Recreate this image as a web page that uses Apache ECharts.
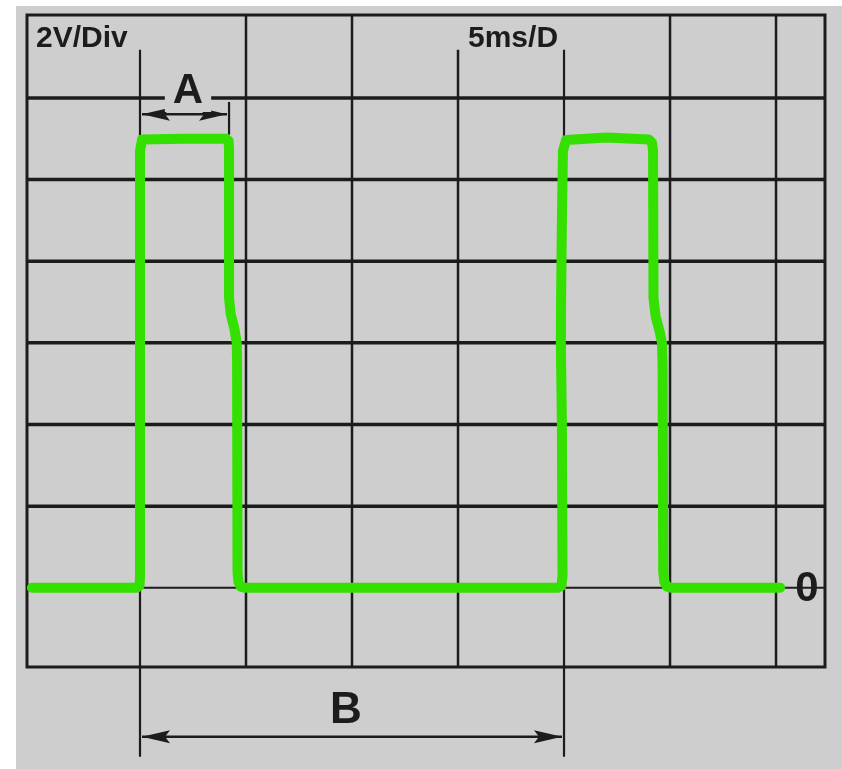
<!DOCTYPE html>
<html>
<head>
<meta charset="utf-8">
<script src="https://cdn.jsdelivr.net/npm/echarts@6/dist/echarts.min.js"></script>
<style>
  html, body { margin: 0; padding: 0; background: #fff; }
  #bg { position: absolute; left: 16px; top: 6px; right: 0; bottom: 0; background: #cecece; }
  #main { position: absolute; left: 0; top: 0; width: 842px; height: 769px; }
</style>
</head>
<body>
<div id="bg"></div>
<div id="main"></div>
<script>
// trace, time in ms (5 ms / div), voltage in V (2 V / div)
const traceTime = [-5.1, -0.15, -0.02, 0, 0, 0.1, 2.0, 4.05, 4.18, 4.2, 4.2, 4.28, 4.45, 4.56, 4.58, 4.6, 4.64, 4.75, 4.95,
                   19.7, 19.88, 19.93, 19.9, 19.85, 19.86, 19.9, 19.95, 20.1, 22.0, 24.0, 24.15, 24.2, 24.22, 24.32, 24.5, 24.62, 24.65, 24.68, 24.73, 24.85, 25.05, 30.2];
const traceVolt = [0, 0, 0.05, 0.3, 10.7, 10.98, 11.0, 11.0, 10.95, 10.75, 7.1, 6.7, 6.35, 6.0, 5.5, 0.4, 0.15, 0.03, 0,
                   0, 0.05, 0.3, 4.0, 6.0, 6.9, 9.0, 10.7, 10.97, 11.03, 10.98, 10.9, 10.7, 7.1, 6.65, 6.3, 6.0, 5.5, 0.4, 0.15, 0.03, 0, 0];

// grid lines
const hGridVolts = [2, 4, 6, 8, 10, 12];
const zeroVolt = [0];
const vGridFull = [5, 10, 25, 30];
const vGridBelowLabels = [15];
const markerTimes = [0, 20];

// measurements
const pulseWidthA = [0, 4.2];   // ms
const periodB = [0, 20];        // ms

// labels
const voltsPerDiv = '2V/Div';
const timePerDiv = '5ms/D';
const zeroLabel = '0';

// axis extent and annotation levels (V)
const V_MIN = -1.94, V_MAX = 14.03;
const T_MIN = -5.33, T_MAX = 32.31;
const V_LABEL_ROW = 13.18;
const V_A_ARROW = 11.6;
const V_A_TICK_TOP = 11.9;
const V_B_ARROW = -3.65;
const V_B_TICK_END = -4.14;

const INK = '#1c1c1c';
const GREEN = '#33e000';
const widths = { h: 3.5, v: 2.5, thin: 2, marker: 2.2 };

// segments: [t1, v1, t2, v2, kind]
const segments = [];
hGridVolts.forEach(v => segments.push([T_MIN, v, T_MAX, v, 'h']));
zeroVolt.forEach(v => segments.push([T_MIN, v, T_MAX, v, 'thin']));
vGridFull.forEach(t => segments.push([t, V_MIN, t, V_MAX, 'v']));
vGridBelowLabels.forEach(t => segments.push([t, V_MIN, t, V_LABEL_ROW, 'v']));
markerTimes.forEach(t => segments.push([t, V_B_TICK_END, t, V_LABEL_ROW, 'marker']));
segments.push([pulseWidthA[1], V_A_TICK_TOP, pulseWidthA[1], 11.1, 'marker']);

function renderSegment(params, api) {
    const p1 = api.coord([api.value(0), api.value(1)]);
    const p2 = api.coord([api.value(2), api.value(3)]);
    const kind = segments[params.dataIndex][4];
    return {
        type: 'line',
        shape: { x1: p1[0], y1: p1[1], x2: p2[0], y2: p2[1] },
        style: { stroke: INK, lineWidth: widths[kind] }
    };
}

// double headed arrow between two times at one level
function renderArrow(params, api) {
    const a = api.coord([api.value(0), api.value(2)]);
    const b = api.coord([api.value(1), api.value(2)]);
    const len = 28, hw = 6.5;
    const x1 = a[0] + 2, x2 = b[0] - 2, y = a[1];
    return {
        type: 'group',
        children: [
            { type: 'line', shape: { x1: x1, y1: y, x2: x2, y2: y }, style: { stroke: INK, lineWidth: 2.5 } },
            { type: 'polygon', shape: { points: [[x1, y], [x1 + len, y - hw], [x1 + len - 5, y], [x1 + len, y + hw]] }, style: { fill: INK } },
            { type: 'polygon', shape: { points: [[x2, y], [x2 - len, y - hw], [x2 - len + 5, y], [x2 - len, y + hw]] }, style: { fill: INK } }
        ]
    };
}

const chart = echarts.init(document.getElementById('main'));
chart.setOption({
    backgroundColor: 'transparent',
    animation: false,
    grid: {
        left: 27, right: 17, top: 15, bottom: 102,
        show: true, borderColor: INK, borderWidth: 3, backgroundColor: 'transparent'
    },
    xAxis: { type: 'value', min: T_MIN, max: T_MAX, show: false },
    yAxis: { type: 'value', min: V_MIN, max: V_MAX, show: false },
    series: [
        {
            type: 'custom',
            z: 1,
            clip: false,
            renderItem: renderSegment,
            data: segments.map(s => s.slice(0, 4))
        },
        {
            type: 'custom',
            z: 2,
            clip: false,
            renderItem: renderArrow,
            data: [
                [pulseWidthA[0], pulseWidthA[1], V_A_ARROW],
                [periodB[0], periodB[1], V_B_ARROW]
            ]
        },
        {
            type: 'line',
            z: 3,
            showSymbol: false,
            symbol: 'none',
            data: traceTime.map((t, i) => [t, traceVolt[i]]),
            lineStyle: { color: GREEN, width: 10, cap: 'round', join: 'round' }
        }
    ],
    graphic: [
        {
            type: 'text', z: 10, left: 36, top: 24,
            style: { text: voltsPerDiv, font: 'bold 30px "Liberation Sans", Arial, sans-serif', fill: INK }
        },
        {
            type: 'text', z: 10, left: 468, top: 24,
            style: { text: timePerDiv, font: 'bold 30px "Liberation Sans", Arial, sans-serif', fill: INK }
        },
        {
            type: 'text', z: 10, x: 188, y: 91,
            style: {
                text: 'A', font: 'bold 42px "Liberation Sans", Arial, sans-serif', fill: INK,
                align: 'center', verticalAlign: 'middle',
                backgroundColor: '#cecece', padding: [0, 8, 0, 8]
            }
        },
        {
            type: 'text', z: 10, x: 346, y: 711,
            style: {
                text: 'B', font: 'bold 44px "Liberation Sans", Arial, sans-serif', fill: INK,
                align: 'center', verticalAlign: 'middle'
            }
        },
        {
            type: 'text', z: 10, x: 807, y: 589,
            style: {
                text: zeroLabel, font: 'bold 42px "Liberation Sans", Arial, sans-serif', fill: INK,
                align: 'center', verticalAlign: 'middle'
            }
        }
    ]
});
</script>
</body>
</html>
